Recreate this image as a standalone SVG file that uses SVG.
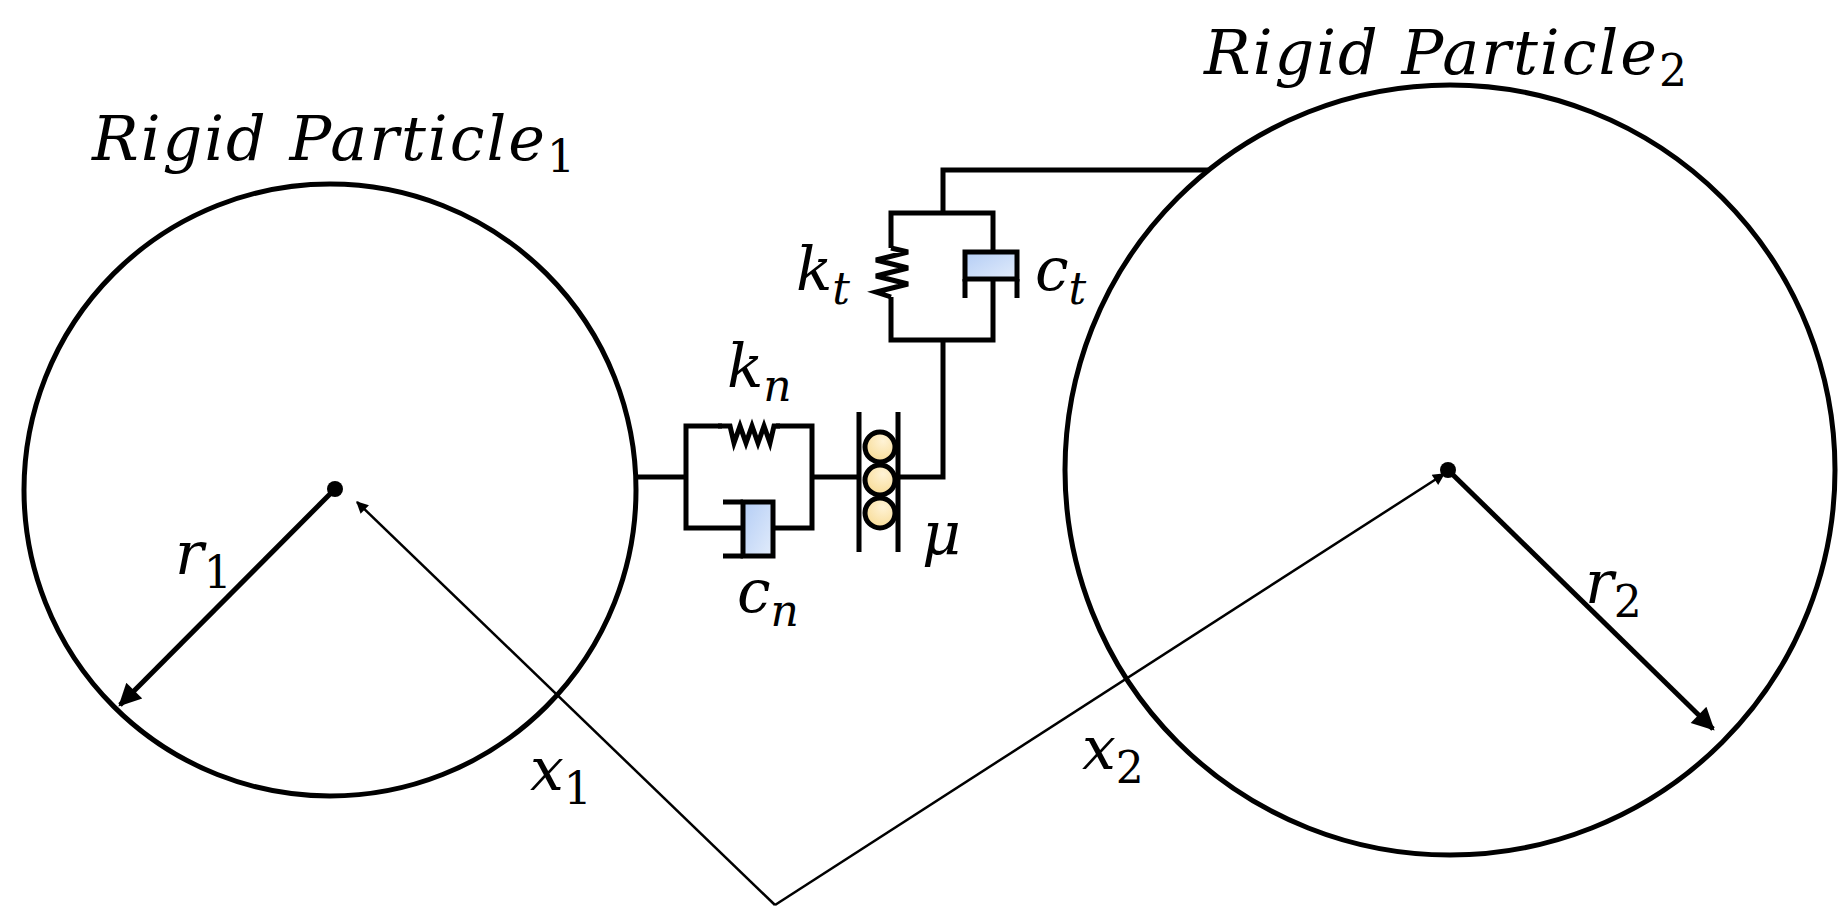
<svg xmlns="http://www.w3.org/2000/svg" width="1845" height="918" viewBox="0 0 1845 918">
<style>
.s{fill:none;stroke:#000;stroke-width:5}
.t{font-family:"DejaVu Serif",serif;font-style:italic;font-size:60px;fill:#000}
.ti{font-size:62px;letter-spacing:2px}
.sub{font-size:44px;font-style:normal;letter-spacing:0}
.subi{font-size:44px}
</style>
<defs>
<linearGradient id="bl" x1="0" y1="0" x2="1" y2="1"><stop offset="0" stop-color="#b4cdf5"/><stop offset="1" stop-color="#e2ecfb"/></linearGradient>
<radialGradient id="yl" cx="0.6" cy="0.3" r="0.8"><stop offset="0" stop-color="#fff3d6"/><stop offset="1" stop-color="#f7d98f"/></radialGradient>
<marker id="ah" viewBox="0 0 10 10" refX="9" refY="5" markerWidth="16" markerHeight="12" orient="auto" markerUnits="userSpaceOnUse"><path d="M0,0 L10,5 L0,10 z"/></marker>
<marker id="ahb" viewBox="0 0 10 10" refX="9" refY="5" markerWidth="5" markerHeight="4.5" orient="auto"><path d="M0,0 L10,5 L0,10 z"/></marker>
</defs>
<g id="particle1">
<circle class="s" cx="330" cy="490" r="306"/>
<circle cx="335" cy="489" r="8"/>
<text class="t ti" x="92" y="160">Rigid Particle<tspan class="sub" dy="12">1</tspan></text>
</g>
<g id="particle2">
<circle class="s" cx="1450" cy="470" r="385"/>
<circle cx="1448" cy="470" r="8"/>
<text class="t ti" x="1204" y="74">Rigid Particle<tspan class="sub" dy="12">2</tspan></text>
</g>
<g id="normal-contact">
<rect class="s" x="686" y="426" width="126" height="102" fill="none"/>
<line x1="722" y1="426" x2="776" y2="426" stroke="#fff" stroke-width="7"/>
<path class="s" d="M718,426 L730,426 L734,443 L740,426 L746,443 L752,426 L758,443 L764,426 L770,443 L774,426 L780,426"/>
<line x1="743" y1="528" x2="773" y2="528" stroke="#fff" stroke-width="7"/>
<rect x="743" y="502" width="30" height="54" fill="url(#bl)" stroke="#000" stroke-width="5"/>
<path class="s" d="M723,502 L743,502 M723,556 L743,556"/>
<text class="t" x="727" y="387">k<tspan class="subi" dy="14">n</tspan></text>
<text class="t" x="737" y="612">c<tspan class="subi" dy="14">n</tspan></text>
</g>
<g id="friction">
<path class="s" d="M859,412 L859,552 M898,412 L898,552"/>
<circle cx="880" cy="447" r="15" fill="url(#yl)" stroke="#000" stroke-width="5"/>
<circle cx="880" cy="480" r="15" fill="url(#yl)" stroke="#000" stroke-width="5"/>
<circle cx="880" cy="513" r="15" fill="url(#yl)" stroke="#000" stroke-width="5"/>
<text class="t" x="922" y="555">μ</text>
</g>
<g id="tangential-contact">
<path class="s" d="M891,248 L891,213 L993,213 L993,252 M993,279 L993,340 L891,340 L891,297"/>
<path class="s" d="M891,248 L908,252 L876,260 L908,268 L876,276 L908,284 L876,292 L891,297"/>
<rect x="965" y="252" width="52" height="27" fill="url(#bl)" stroke="#000" stroke-width="5"/>
<path class="s" d="M965,279 L965,298 M1017,279 L1017,298"/>
<text class="t" x="796" y="290">k<tspan class="subi" dy="14">t</tspan></text>
<text class="t" x="1035" y="290">c<tspan class="subi" dy="14">t</tspan></text>
</g>
<g id="connectors">
<path class="s" d="M636,477 L686,477 M812,477 L859,477 M898,477 L943,477 L943,340 M943,213 L943,170 L1208,170"/>
<line x1="335" y1="489" x2="120" y2="705" stroke="#000" stroke-width="5" marker-end="url(#ahb)"/>
<line x1="1448" y1="470" x2="1713" y2="729" stroke="#000" stroke-width="5" marker-end="url(#ahb)"/>
<line x1="775" y1="905" x2="357" y2="502" stroke="#000" stroke-width="2.5" marker-end="url(#ah)"/>
<line x1="775" y1="905" x2="1444" y2="474" stroke="#000" stroke-width="2.5" marker-end="url(#ah)"/>
<text class="t" x="175" y="574">r<tspan class="sub" dy="14">1</tspan></text>
<text class="t" x="530" y="790">x<tspan class="sub" dy="14">1</tspan></text>
<text class="t" x="1082" y="769">x<tspan class="sub" dy="14">2</tspan></text>
<text class="t" x="1585" y="603">r<tspan class="sub" dy="14">2</tspan></text>
</g>
</svg>
